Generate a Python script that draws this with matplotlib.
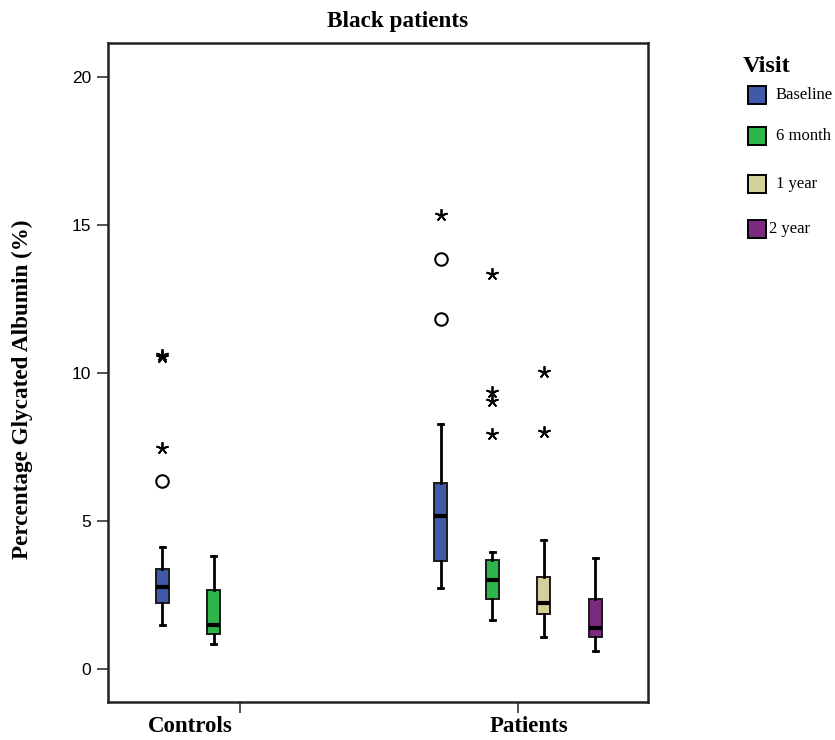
import matplotlib.pyplot as plt
from matplotlib.patches import Rectangle
import numpy as np

# box summaries per visit: (group, slot, whislo, q1, med, q3, whishi)
visits = ["Baseline", "6 month", "1 year", "2 year"]
colors = ["#3F5AA8", "#2DB54A", "#D5CF9A", "#7A2A7F"]
groups = ["Controls", "Patients"]

box_group = [0, 0, 1, 1, 1, 1]
box_visit = [0, 1, 0, 1, 2, 3]
whislo = [1.50, 0.84, 2.73, 1.66, 1.10, 0.62]
q1 = [2.24, 1.18, 3.65, 2.36, 1.87, 1.07]
med = [2.78, 1.49, 5.17, 3.01, 2.24, 1.39]
q3 = [3.37, 2.68, 6.28, 3.70, 3.11, 2.36]
whishi = [4.12, 3.81, 8.29, 3.96, 4.36, 3.75]

# outliers (circles) and extremes (stars), index into the boxes above
circ_box = [0, 2, 2]
circ_val = [6.35, 11.83, 13.87]
star_box = [0, 0, 0, 2, 3, 3, 3, 3, 4, 4]
star_val = [7.46, 10.54, 10.60, 15.34, 7.95, 9.07, 9.37, 13.33, 8.00, 10.04]

slot = 0.185
offsets = (np.arange(4) - 1.5) * slot
xpos = [1 + g + offsets[v] for g, v in zip(box_group, box_visit)]

fig = plt.figure(figsize=(8.35, 7.40), dpi=100)
ax = fig.add_axes([0.1293, 0.0514, 0.6467, 0.8905])

stats = []
for i in range(len(xpos)):
    stats.append(dict(med=med[i], q1=q1[i], q3=q3[i], whislo=whislo[i], whishi=whishi[i], fliers=[]))

bp = ax.bxp(stats, positions=xpos, widths=0.046, patch_artist=True, showfliers=False,
            capwidths=0.018,
            boxprops=dict(edgecolor="#1a1a1a", linewidth=1.4),
            whiskerprops=dict(color="black", linewidth=2),
            capprops=dict(color="black", linewidth=2),
            medianprops=dict(color="black", linewidth=3, solid_capstyle="butt"))
for patch, v in zip(bp["boxes"], box_visit):
    patch.set_facecolor(colors[v])

ax.plot([xpos[b] for b in circ_box], circ_val, linestyle="none", marker="o", markersize=9,
        markerfacecolor="white", markeredgecolor="black", markeredgewidth=1.5)
ax.plot([xpos[b] for b in star_box], star_val, linestyle="none", marker=(5, 2, 0), markersize=9,
        color="black", markeredgewidth=1.3)

ax.set_xlim(0.527, 2.467)
ax.set_ylim(-1.11, 21.15)
ax.set_yticks([0, 5, 10, 15, 20])
ax.set_xticks([1, 2])
ax.set_xticklabels(["", ""])
for lab in ax.get_yticklabels():
    lab.set_family("Liberation Sans")
    lab.set_fontsize(12.5)
ax.tick_params(axis="both", direction="out", length=8, width=1.2, color="#333333")
ax.tick_params(axis="y", pad=4)
for s in ax.spines.values():
    s.set_linewidth(1.8)
    s.set_color("#222222")

# group labels sit a little off their ticks
for gx, name in zip([190, 529], groups):
    fig.text(gx / 835, 1 - 726 / 740, name, family="Liberation Serif",
             fontweight="bold", fontsize=16.5, ha="center", va="center")

fig.text(22 / 835, 1 - 389 / 740, "Percentage Glycated Albumin (%)", family="Liberation Serif",
         fontweight="bold", fontsize=16.7, rotation=90, ha="center", va="center")
fig.text(398 / 835, 1 - 21 / 740, "Black patients", family="Liberation Serif",
         fontweight="bold", fontsize=16.7, ha="center", va="center")

# legend drawn by hand in figure coordinates
fig.text(743 / 835, 1 - 67 / 740, "Visit", family="Liberation Serif", fontweight="bold",
         fontsize=17.5, va="center", ha="left")
leg_y = [95, 136, 184, 229]
for lbl, c, y in zip(visits, colors, leg_y):
    fig.patches.append(Rectangle((748 / 835, 1 - (y + 9) / 740), 18 / 835, 18 / 740,
                                 transform=fig.transFigure, facecolor=c, edgecolor="black",
                                 linewidth=1.4))
    fig.text(776 / 835 if lbl != "2 year" else 769 / 835, 1 - y / 740, lbl,
             family="Liberation Serif", fontsize=12, va="center", ha="left")

fig.savefig("out.png", dpi=100)
